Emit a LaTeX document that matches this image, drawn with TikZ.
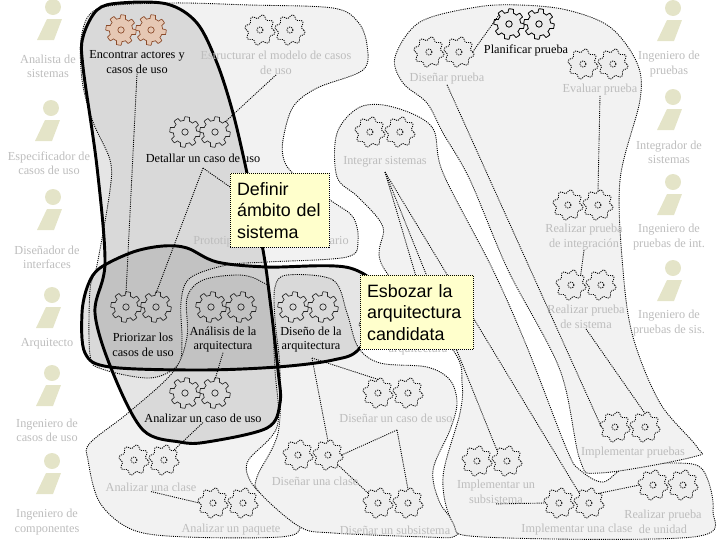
\documentclass[tikz,border=0pt]{standalone}
\usepackage{fontspec}
\setmainfont{Liberation Serif}
\newfontfamily\calloutfont{Liberation Sans}
\usepackage{xcolor}
\usetikzlibrary{positioning}
\definecolor{fadeText}{HTML}{BDBDBD}
\definecolor{roleIcon}{HTML}{E4E4C8}
\definecolor{blobFill}{HTML}{F2F2F2}
\definecolor{noteFill}{HTML}{FFFFCC}
\definecolor{activeGear}{HTML}{E6C8B4}
\definecolor{activeLine}{HTML}{8A4A2A}

\begin{document}
\begin{tikzpicture}[
    x=0.75pt, y=-0.75pt,
    role/.style={text=fadeText, font=\fontsize{9.2}{10.8}\selectfont, align=center, inner sep=0pt},
    act/.style={text=black, font=\fontsize{9.2}{11}\selectfont, align=center, inner sep=0pt},
    idle/.style={act, text=fadeText},
    note/.style={rectangle, fill=noteFill, draw=black, line width=0.6pt, dash pattern=on 0.75pt off 0.75pt, font=\calloutfont\fontsize{13.4}{16.2}\selectfont, align=left, anchor=north west, inner sep=0pt, inner xsep=5pt},
    blob/.style={fill=blobFill, draw=black, line width=0.65pt, dash pattern=on 0.8pt off 0.8pt},
    zone/.style={fill=black, fill opacity=0.1, draw=black, line width=2.2pt},
    link/.style={draw=black, line width=0.65pt, dash pattern=on 0.8pt off 0.8pt},
    solidgear/.style={fill=none, draw=black!85, line width=0.5pt},
    hardgear/.style={fill=black!8, draw=black, line width=0.6pt},
    softgear/.style={fill=black!7, draw=black, line width=0.65pt, dash pattern=on 0.8pt off 0.8pt},
    redgear/.style={fill=activeGear, draw=activeLine, line width=0.5pt},
    cog/.pic={
        \draw[#1] plot[domain=0:360, samples=145, variable=\t] (\t:{13.4+1.8*max(-1,min(1,4*sin(8*\t+22.5)))}) -- cycle;
        \draw[#1, fill=none] (0,0) circle (3.2);
    },
    softcog/.pic={
        \draw[#1] plot[domain=0:360, samples=97, variable=\t] (\t:{13.5+1.7*sin(8*\t)}) -- cycle;
        \draw[#1, fill=none] (0,0) circle (3);
    },
    cogs/.pic={
        \node (-l) [circle, minimum size=20pt, inner sep=0pt] at (-15,0) {};
        \node (-r) [circle, minimum size=20pt, inner sep=0pt] at (15,0) {};
        \pic at (-15,0) {cog=#1};
        \pic at (15,0) {cog=#1};
    },
    softcogs/.pic={
        \node (-l) [circle, minimum size=20pt, inner sep=0pt] at (-15,0) {};
        \node (-r) [circle, minimum size=20pt, inner sep=0pt] at (15,0) {};
        \pic at (-15,0) {softcog=#1};
        \pic at (15,0) {softcog=#1};
    },
    worker/.pic={
        \fill[roleIcon] (0,0) circle (8);
        \fill[roleIcon] (-6,12) -- (9,12) -- (1,33) -- (-16,33) -- cycle;
    }
]
\useasboundingbox (0,0) rectangle (720,540);

\draw[blob] plot[smooth cycle, tension=0.55] coordinates {(170,3) (250,5) (333,8) (358,22) (367,45) (363,70) (317,88) (293,107) (283,140) (284,160) (295,175) (333,202) (353,217) (358,240) (347,257) (267,262) (227,265) (190,278) (181,302) (182,340) (178,365) (150,378) (102,369) (90,355) (90,290) (97,265) (110,190) (110,160) (93,122) (82,80) (82,33) (100,8)};
\draw[blob] plot[smooth cycle, tension=0.55] coordinates {(203,280) (240,275) (262,282) (270,295) (275,370) (277,427) (247,463) (257,490) (287,507) (300,528) (280,537) (187,537) (133,530) (100,503) (88,460) (90,443) (128,413) (173,372) (187,337) (187,298)};
\draw[blob] plot[smooth cycle, tension=0.55] coordinates {(287,275) (333,280) (347,313) (358,347) (380,363) (427,367) (450,380) (457,403) (450,430) (433,470) (440,503) (458,527) (453,537) (427,537) (333,533) (300,527) (260,493) (257,477) (278,433) (280,370) (275,320) (275,287)};
\draw[blob] plot[smooth cycle, tension=0.55] coordinates {(360,107) (393,107) (432,127) (443,173) (493,270) (527,347) (567,450) (580,470) (603,482) (627,467) (677,463) (703,470) (713,510) (693,537) (483,537) (453,523) (443,477) (460,413) (462,383) (453,350) (383,267) (383,227) (358,197) (337,177) (337,133)};
\draw[blob] plot[smooth cycle, tension=0.55] coordinates {(520,5) (567,10) (610,27) (637,63) (640,100) (620,180) (623,270) (633,337) (660,403) (697,447) (693,457) (600,473) (580,460) (560,370) (508,270) (470,180) (443,133) (427,103) (403,83) (395,57) (420,22) (477,7)};

\draw[zone] plot[smooth cycle, tension=0.55] coordinates {(120,3) (167,4) (197,23) (217,63) (233,113) (247,173) (263,250) (270,300) (278,370) (280,403) (267,428) (207,442) (180,442) (143,430) (113,373) (95,313) (105,263) (97,167) (83,67) (83,37) (97,10)};
\draw[zone] plot[smooth cycle, tension=0.55] coordinates {(100,268) (133,252) (163,246) (187,248) (217,262) (267,267) (350,268) (385,300) (360,348) (333,360) (277,367) (200,370) (110,367) (85,353) (82,313) (88,285)};

\pic at (53,7) {worker};
\pic at (51,108) {worker};
\pic at (53,197) {worker};
\pic at (52,295) {worker};
\pic at (52,373) {worker};
\pic at (52,461) {worker};
\pic at (673,8) {worker};
\pic at (673,97) {worker};
\pic at (673,182) {worker};
\pic at (673,268) {worker};

\node (rAnalista) [role] at (48,66) {Analista de\\sistemas};
\node (rEspecif) [role] at (49,163) {Especificador de\\casos de uso};
\node (rDisenador) [role] at (47,257) {Diseñador de\\interfaces};
\node (rArq) [role] at (47,344) {Arquitecto};
\node (rIngCasos) [role] at (47,430) {Ingeniero de\\casos de uso};
\node (rIngComp) [role] at (47,522) {Ingeniero de\\componentes};
\node (rIngPru) [role] at (669,64) {Ingeniero de\\pruebas};
\node (rIntegrador) [role] at (669,152) {Integrador de\\sistemas};
\node (rIngInt) [role] at (669,237) {Ingeniero de\\pruebas de int.};
\node (rIngSis) [role] at (669,323) {Ingeniero de\\pruebas de sis.};

\pic (gEnc) at (136,30) {cogs=redgear};
\pic (gEst) at (275,30) {softcogs=softgear};
\pic (gDet) at (200,132) {cogs=solidgear};
\pic (gInt) at (385,132) {softcogs=softgear};
\pic (gPla) at (524,24) {cogs=hardgear};
\pic (gDpr) at (444,52) {softcogs=softgear};
\pic (gEva) at (598,64) {softcogs=softgear};
\pic (gRin) at (583,205) {softcogs=softgear};
\pic (gRsi) at (586,285) {softcogs=softgear};
\pic (gPri) at (141,307) {cogs=solidgear};
\pic (gAna) at (226,307) {cogs=solidgear};
\pic (gDar) at (308,307) {cogs=solidgear};
\pic (gImp) at (389,327) {softcogs=softgear};
\pic (gAca) at (200,393) {cogs=solidgear};
\pic (gDca) at (393,393) {softcogs=softgear};
\pic (gAcl) at (149,460) {softcogs=softgear};
\pic (gDcl) at (313,455) {softcogs=softgear};
\pic (gApa) at (228,503) {softcogs=softgear};
\pic (gDsu) at (393,503) {softcogs=softgear};
\pic (gIsu) at (492,461) {softcogs=softgear};
\pic (gIcl) at (574,503) {softcogs=softgear};
\pic (gRun) at (668,485) {softcogs=softgear};
\pic (gIpr) at (630,427) {softcogs=softgear};

\node (aEnc) [act] at (137,62) {Encontrar actores y\\casos de uso};
\node (aEst) [idle] at (276,63) {Estructurar el modelo de casos\\de uso};
\node (aDet) [act] at (203,158) {Detallar un caso de uso};
\node (aInt) [idle] at (385,162) {Integrar sistemas};
\node (aPro) [idle] at (271,241) {Prototipar la interfaz de usuario};
\node (aDpr) [idle] at (447,79) {Diseñar prueba};
\node (aPla) [act] at (526,50) {Planificar prueba};
\node (aEva) [idle] at (600,90) {Evaluar prueba};
\node (aRin) [idle] at (584,237) {Realizar prueba\\de integración};
\node (aRsi) [idle] at (586,317) {Realizar prueba\\de sistema};
\node (aPri) [act] at (143,345) {Priorizar los\\casos de uso};
\node (aAna) [act] at (223,339.5) {Análisis de la\\arquitectura};
\node (aDar) [act] at (311,339.5) {Diseño de la\\arquitectura};
\node (aImp) [idle] at (418,342) {Implementación de la\\arquitectura};
\node (aAca) [act] at (203,418) {Analizar un caso de uso};
\node (aDca) [idle] at (396,418) {Diseñar un caso de uso};
\node (aIpr) [idle] at (633,453) {Implementar pruebas};
\node (aAcl) [idle] at (151,487) {Analizar una clase};
\node (aDcl) [idle] at (315,481) {Diseñar una clase};
\node (aApa) [idle] at (231,530) {Analizar un paquete};
\node (aDsu) [idle] at (395,530) {Diseñar un subsistema};
\node (aIsu) [idle] at (496,492) {Implementar un\\subsistema};
\node (aIcl) [idle] at (577,530) {Implementar una clase};
\node (aRun) [idle] at (663,522) {Realizar prueba\\de unidad};

\coordinate (jDet) at (203,168);
\coordinate (jPro) at (290,229);
\coordinate (jInt) at (385,172);
\coordinate (jImp) at (431,327);
\coordinate (jDar) at (312,358);
\coordinate (jDca) at (397,430);

\draw[link] (aEnc.south) -- (gPri-l.north);
\draw[link] (jDet) -- (gPri-r.north);
\draw[link] (jDet) -- (jPro);
\draw[link] (aEst.south) -- (gDet-r.north east);
\draw[link] (aDpr.south) -- (gIpr-l.west);
\draw[link] (gDpr-r.east) -- (gPla-l.north west);
\draw[link] (aEva.south) -- (gRin-r.north);
\draw[link] (aRin.south) -- (gRsi-l.north east);
\draw[link] (aRsi.south) -- (gIpr-r.north);
\draw[link] (jInt) -- (gIcl-r.north west);
\draw[link] (jInt) -- (gIsu-r.north west);
\draw[link] (jInt) -- (jImp);
\draw[link] (jDar) -- (gDcl-r.north);
\draw[link] (jDar) -- (gDca-l.north);
\draw[link] (jDca) -- (gDsu-r.north);
\draw[link] (jDca) -- (gDcl-r.east);
\draw[link] (gDcl-r.south east) -- (gDsu-l.north west);
\draw[link] (aAna.south) -- (gAca-r.north);
\draw[link] (aAca.south) -- (gAcl-r.north east);
\draw[link] (aAcl.south) -- (gApa-l.west);
\draw[link] (aIsu.south) -- (gIcl-l.west);
\draw[link] (gIcl-r.north east) -- (gRun-l.west);

\node (nDef) [note, text width=64pt, minimum height=55.5pt] at (230,173) {Definir\\ámbito del\\sistema};
\node (nEsb) [note, text width=75pt, minimum height=55.5pt] at (360,275) {Esbozar la\\arquitectura\\candidata};
\end{tikzpicture}
\end{document}
